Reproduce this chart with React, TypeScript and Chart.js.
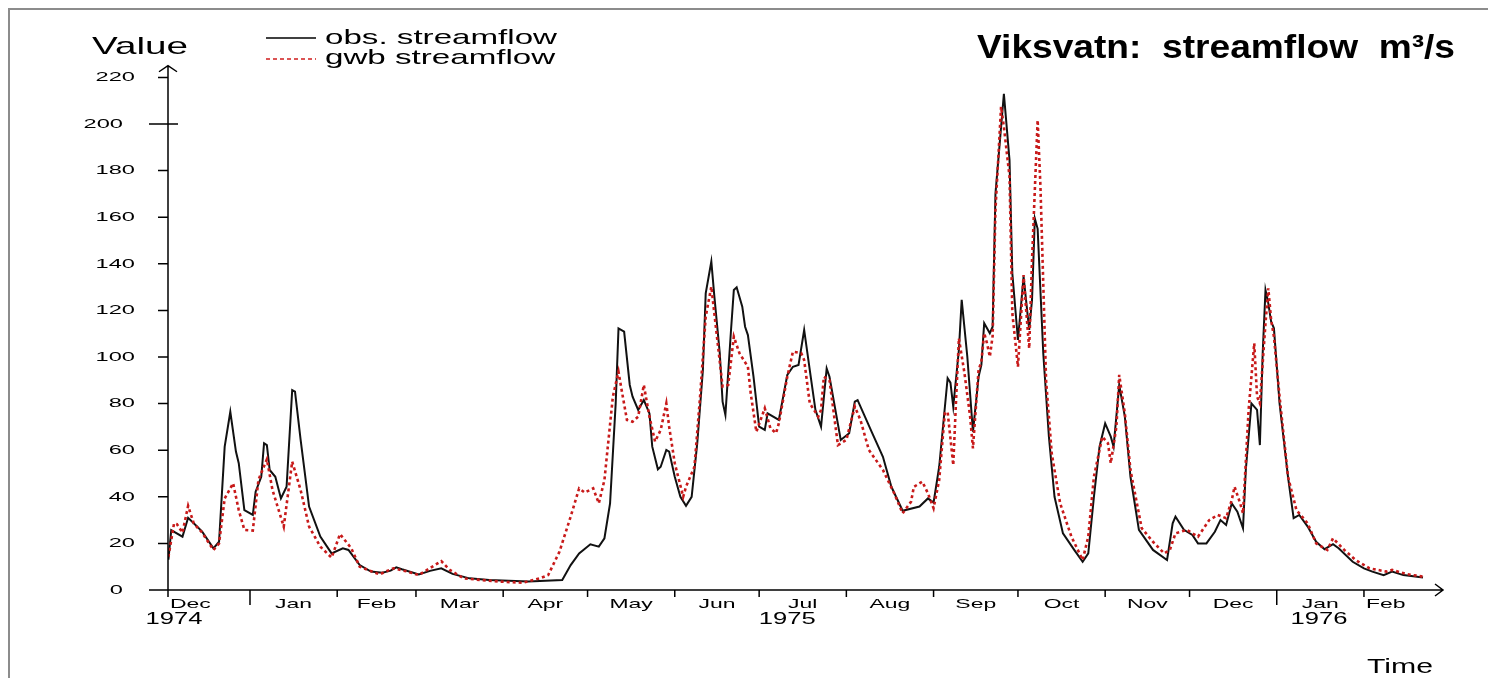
import React, { useEffect, useRef } from "react";
import { Chart, registerables } from "chart.js";

Chart.register(...registerables);

// Days counted from 1974-12-01
const obsDay = [2,3,7,9,12,14,18,20,22,24,26,27,29,32,33,35,36,37,38,40,42,44,46,47,49,52,56,60,64,66,70,74,78,81,83,85,91,95,99,103,109,116,130,142,145,148,152,155,157,159,161,162,164,166,167,169,171,173,174,176,177,179,180,182,184,186,188,190,192,193,195,196,198,199,200,202,203,204,206,207,208,210,212,214,215,219,222,224,226,228,230,232,234,236,237,241,244,246,247,252,256,259,263,269,272,274,276,279,280,281,283,284,286,288,290,291,292,294,295,296,299,301,302,304,306,308,309,310,311,313,315,317,320,324,327,329,331,333,335,337,338,340,342,344,347,352,357,359,360,363,366,368,371,374,376,378,380,382,384,385,387,389,390,391,392,393,394,395,397,400,402,404,407,410,413,416,418,423,427,430,434,437,441,448];
const obsFlow = [13,25.7,22.9,31,27.5,25,17.9,20.7,61.5,76.5,59.4,54.4,34.3,32.2,42.2,48.6,63,62.2,51.5,48.6,39.3,44.3,85.8,85.1,64.4,35.8,22.9,15.7,17.9,17.2,10.7,7.9,7.4,8.3,9.7,8.9,6.7,8.2,9.3,6.9,5,4.3,3.6,4.3,10.7,15.7,19.6,18.6,22.2,37.2,80.1,112.3,110.9,88,83,77.3,81.5,75.8,61.5,51.8,52.9,60.1,59.4,48.6,40,36.1,40,63,94.4,127.3,141,127,101.6,80.8,75.1,111.6,128.8,129.9,121.6,113,109.4,91.5,70.1,68.7,75.8,73,92.3,95.8,96.6,111.6,94.4,77.3,70.1,95.1,91.5,64.4,67.3,80.8,81.5,67.9,57.2,44.3,34,35.8,39.3,37.5,52.9,90.9,89,78.7,103,124.5,100.1,67.9,91.5,96.6,114.5,110.2,113,170,213,184.5,135.9,107.3,134.5,111.6,124.5,159.5,155,101.6,65.8,40,24.3,17.2,12.1,15.7,40,61.5,71.5,65.8,61.5,88,74.4,48.6,25.8,17.2,12.9,28.6,31.5,25.8,23.6,20,20,25,30,27.9,37.2,33.6,26.5,51.5,80.1,77.3,62.2,101.6,128.8,123,115.2,112.3,80.1,48.6,30.8,32.2,27.2,20.7,17.5,19.7,17.9,12.1,9.3,7.9,6.4,7.9,6.4,5.4];

const gwbDay = [2,4,5,7,9,11,14,18,20,22,25,27,29,32,34,37,39,43,46,49,52,56,60,63,67,70,77,80,82,87,91,99,102,107,113,120,128,134,137,141,145,148,150,153,155,157,160,162,163,165,167,169,171,173,175,177,179,180,182,185,186,189,191,193,195,197,199,201,203,205,208,209,211,214,216,218,219,222,224,227,228,230,233,234,235,237,240,243,246,248,251,256,260,263,266,267,270,272,274,276,278,279,281,282,283,285,287,288,290,291,292,293,294,295,296,298,299,301,302,304,306,307,308,309,311,312,314,316,319,323,327,329,331,334,336,337,339,340,342,344,348,352,356,358,360,364,368,372,375,378,380,381,383,384,386,388,389,390,392,393,394,395,397,400,403,407,410,414,416,420,424,429,435,437,442,448];
const gwbFlow = [14.3,28.6,28.3,24.6,36.1,28.6,24.6,17.2,20,39.3,45.8,34.3,25.8,25.5,47.2,56.1,42.9,27.2,55.1,42.9,27.2,18.6,13.9,24,17.9,10,6.7,8.3,9.3,7.9,6.4,12.4,8.6,5,4.3,3.6,3.1,5,6.4,16.4,31.5,43.6,41.8,43.6,37.2,47.2,83,93.7,86.6,73,72.2,74.4,88,74.4,63.7,68.7,80.1,70.1,54.4,40,44.3,52.9,83,117.3,130.2,108.7,87.3,88,108.7,101.6,95.8,84.4,67.9,78,69.4,67.3,71.5,91.5,102.3,101.6,98.7,80.1,74.4,77.3,91.5,90.1,62.2,64.4,78.7,73,60.1,51.5,41.5,32.9,37.9,44.3,46.5,41.5,35.1,47.2,75.8,76.5,53.6,81.5,108,93,74.4,60.8,94.4,98,110.2,105.9,100.1,109,163,207.4,198.8,177.4,118.8,95.8,135.2,118.8,103.7,141.6,201.7,173.1,90,58.7,37.2,22.9,12.9,22.9,48.6,65.8,63,54.4,70.1,92.3,75.8,51.5,26.5,20.7,15.7,17.2,24.3,25.8,22.9,30,32.2,30.8,38.6,44.3,37.2,32.9,77.3,105.9,83,80.1,114.5,129.5,115.9,108.7,83,48.6,34.3,28.6,20,17.2,22.2,17.2,12.9,9.3,7.9,8.6,6.9,5.7];

const monthLabels = ["Dec","Jan","Feb","Mar","Apr","May","Jun","Jul","Aug","Sep","Oct","Nov","Dec","Jan","Feb"];
const yearLabels = ["1974","1975","1976"];
const yTickValues = [0,20,40,60,80,100,120,140,160,180,200,220];
const longYTicks = [0,200];
const legendLabels = ["obs. streamflow","gwb streamflow"];
const titleText = "Viksvatn:  streamflow  m³/s";

// layout (not data)
const X_MIN = 1.85;
const X_MAX = 455.1;
const DATA_END = 448;
const Y_MAX = 225;
const yearAnchorDay = [4, 222, 411];
const FONT = '"Liberation Sans", Arial, Helvetica, sans-serif';

const dayMs = 86400000;
const base = Date.UTC(1974, 11, 1);
const monthStart = monthLabels.map((_, i) => Math.round((Date.UTC(1974, 11 + i, 1) - base) / dayMs));
const monthEnd = monthLabels.map((_, i) => Math.round((Date.UTC(1974, 12 + i, 1) - base) / dayMs));

function drawText(ctx: CanvasRenderingContext2D, text: string, x: number, y: number, font: string, sx: number, align: "left" | "center" | "right") {
  ctx.save();
  ctx.font = font;
  ctx.textBaseline = "middle";
  ctx.textAlign = "left";
  const w = ctx.measureText(text).width * sx;
  const left = align === "left" ? x : align === "center" ? x - w / 2 : x - w;
  ctx.translate(left, y);
  ctx.scale(sx, 1);
  ctx.fillStyle = "#000";
  ctx.fillText(text, 0, 0);
  ctx.restore();
}

function fitText(ctx: CanvasRenderingContext2D, text: string, x: number, y: number, font: string, width: number, align: "left" | "center" | "right") {
  ctx.save();
  ctx.font = font;
  const sx = width / ctx.measureText(text).width;
  ctx.restore();
  drawText(ctx, text, x, y, font, sx, align);
  return sx;
}

const axesPlugin = {
  id: "customAxes",
  afterDatasetsDraw(chart: any) {
    const { ctx, chartArea, scales } = chart;
    const xs = scales.x;
    const ys = scales.y;
    const y0 = ys.getPixelForValue(0);
    const x0 = chartArea.left;
    const top = chartArea.top;
    const right = chartArea.right;
    ctx.save();
    // frame
    ctx.strokeStyle = "#8c8c8c";
    ctx.lineWidth = 2;
    ctx.strokeRect(9, 9, 1600, 900);

    ctx.strokeStyle = "#000";
    ctx.lineWidth = 1.5;
    ctx.beginPath();
    ctx.moveTo(x0, y0 + 7);
    ctx.lineTo(x0, top);
    ctx.moveTo(x0 - 19, y0);
    ctx.lineTo(right, y0);
    ctx.moveTo(x0 - 9, top + 6);
    ctx.lineTo(x0, top);
    ctx.lineTo(x0 + 9, top + 6);
    ctx.moveTo(right - 8, y0 - 6);
    ctx.lineTo(right, y0);
    ctx.lineTo(right - 8, y0 + 6);
    // y ticks
    yTickValues.forEach((v) => {
      const py = ys.getPixelForValue(v);
      if (longYTicks.includes(v)) {
        ctx.moveTo(x0 - 19, py);
        ctx.lineTo(x0 + 10, py);
      } else {
        ctx.moveTo(x0 - 10, py);
        ctx.lineTo(x0, py);
      }
    });
    // x ticks
    monthStart.forEach((d, i) => {
      if (d <= X_MIN || d >= X_MAX) return;
      const px = xs.getPixelForValue(d);
      const len = monthLabels[i] === "Jan" ? 15 : 7;
      ctx.moveTo(px, y0);
      ctx.lineTo(px, y0 + len);
    });
    ctx.stroke();

    // y labels
    yTickValues.forEach((v) => {
      const py = ys.getPixelForValue(v);
      const rx = longYTicks.includes(v) ? x0 - 45 : x0 - 33;
      drawText(ctx, String(v), rx, py, `13.5px ${FONT}`, 1.75, "right");
    });

    // month labels
    monthLabels.forEach((m, i) => {
      const s = monthStart[i];
      const e = monthEnd[i];
      const py = y0 + 14;
      if (s < X_MIN || e > DATA_END) {
        const px = xs.getPixelForValue(Math.max(s, X_MIN)) + 2;
        drawText(ctx, m, px, py, `13.5px ${FONT}`, 1.7, "left");
      } else {
        const px = xs.getPixelForValue((s + e) / 2);
        drawText(ctx, m, px, py, `13.5px ${FONT}`, 1.7, "center");
      }
    });

    // year labels
    yearLabels.forEach((yl, i) => {
      drawText(ctx, yl, xs.getPixelForValue(yearAnchorDay[i]), y0 + 30, `16px ${FONT}`, 1.6, "center");
    });

    // axis titles
    fitText(ctx, "Value", 140, 47, `24px ${FONT}`, 96, "center");
    fitText(ctx, "Time", 1400, 667, `20px ${FONT}`, 66, "center");

    // legend
    ctx.lineWidth = 1.5;
    ctx.strokeStyle = "#000";
    ctx.beginPath();
    ctx.moveTo(266, 38);
    ctx.lineTo(316, 38);
    ctx.stroke();
    ctx.strokeStyle = "#d01c1c";
    ctx.setLineDash([4, 3]);
    ctx.beginPath();
    ctx.moveTo(266, 59);
    ctx.lineTo(316, 59);
    ctx.stroke();
    ctx.setLineDash([]);
    const lsx = fitText(ctx, legendLabels[0], 325, 38, `21px ${FONT}`, 232, "left");
    drawText(ctx, legendLabels[1], 325, 58, `21px ${FONT}`, lsx, "left");

    // title
    fitText(ctx, titleText, 977, 49, `bold 34px ${FONT}`, 478, "left");
    ctx.restore();
  },
};

export default function App() {
  const ref = useRef<HTMLCanvasElement | null>(null);
  useEffect(() => {
    if (!ref.current) return;
    const chart = new Chart(ref.current, {
      type: "line",
      data: {
        datasets: [
          {
            label: legendLabels[1],
            data: gwbDay.map((d, i) => ({ x: d, y: gwbFlow[i] })),
            borderColor: "#c81a1a",
            borderWidth: 2.6,
            borderDash: [3, 3],
            pointRadius: 0,
            tension: 0,
            fill: false,
            order: 0,
          },
          {
            label: legendLabels[0],
            data: obsDay.map((d, i) => ({ x: d, y: obsFlow[i] })),
            borderColor: "#111",
            borderWidth: 2,
            pointRadius: 0,
            tension: 0,
            fill: false,
            order: 1,
          },
        ],
      },
      options: {
        animation: false,
        responsive: false,
        layout: { padding: { left: 168, right: 45, top: 590 - Y_MAX * 2.33, bottom: 88 } },
        scales: {
          x: { type: "linear", min: X_MIN, max: X_MAX, display: false },
          y: { type: "linear", min: 0, max: Y_MAX, display: false },
        },
        plugins: { legend: { display: false }, tooltip: { enabled: false } },
      },
      plugins: [axesPlugin],
    });
    return () => chart.destroy();
  }, []);
  return (
    <canvas
      ref={ref}
      width={1488}
      height={678}
      style={{ position: "fixed", left: 0, top: 0, width: 1488, height: 678, background: "#fff" }}
    />
  );
}
